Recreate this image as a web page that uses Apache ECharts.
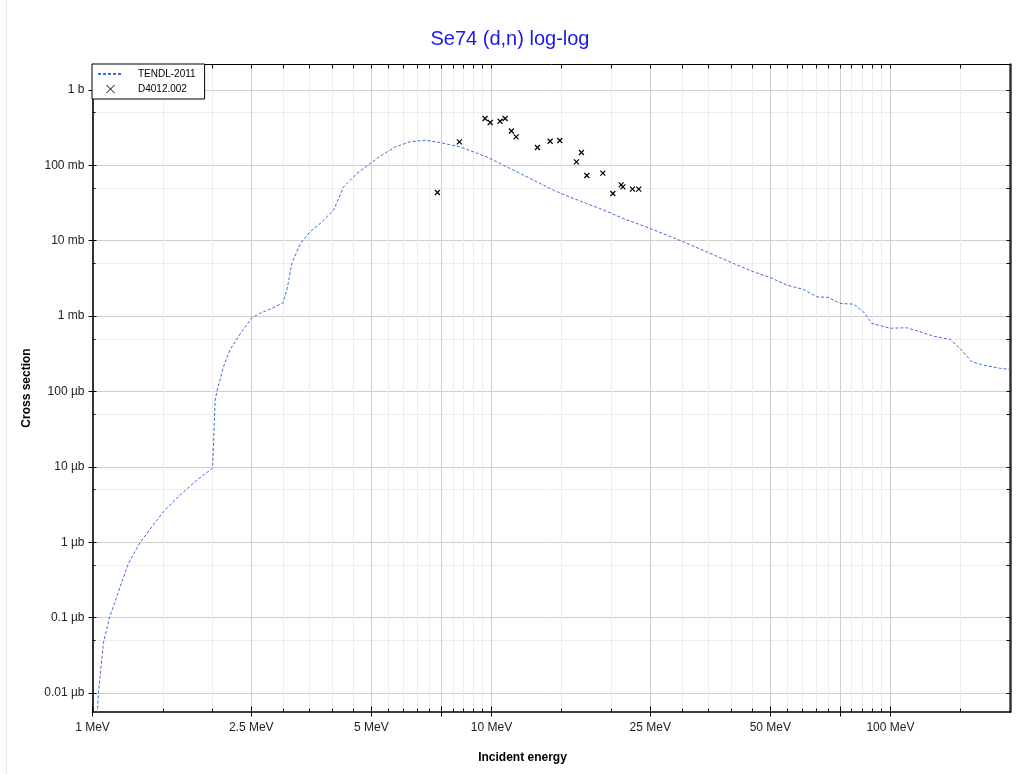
<!DOCTYPE html>
<html><head><meta charset="utf-8">
<script src="https://cdn.jsdelivr.net/npm/echarts@6/dist/echarts.min.js"></script>
<style>html,body{margin:0;padding:0;background:#fff}#c{width:1020px;height:774px}</style>
</head><body><div id="c"></div>
<script>
// ---- data (energy in MeV, cross section in barns) ----
const tendlEnergy = [1.02,1.035,1.065,1.103,1.173,1.231,1.317,1.409,1.506,1.659,1.827,2.0,2.03,2.05,2.13,2.21,2.35,2.51,2.63,2.82,3.0,3.07,3.16,3.32,3.51,3.72,4.02,4.26,4.60,4.97,5.26,5.74,6.26,6.83,7.44,8.35,9.74,10.72,11.8,13.0,14.3,15.7,17.3,18.7,21.6,25.0,30.3,40.4,45.4,49.9,55.0,60.5,65.4,69.9,74.8,80.8,85.6,89.8,99.8,109.9,118.7,128.2,141.1,149.5,160,171,188.4,200];
const tendlXS = [2.5e-9,1.0e-8,4.6e-8,1.0e-7,2.58e-7,5.28e-7,1.0e-6,1.61e-6,2.55e-6,4.25e-6,6.7e-6,9.6e-6,7.7e-5,1.0e-4,2.13e-4,3.55e-4,5.9e-4,9.5e-4,1.09e-3,1.27e-3,1.5e-3,2.2e-3,5.0e-3,9.2e-3,0.0131,0.0169,0.0254,0.0517,0.0778,0.1055,0.132,0.175,0.205,0.215,0.2,0.175,0.129,0.1,0.078,0.0602,0.0467,0.0381,0.0311,0.0267,0.0193,0.01452,0.00965,0.00499,0.00386,0.00326,0.00258,0.00226,0.0018,0.00177,0.00147,0.00144,0.00114,8.0e-4,6.9e-4,7.0e-4,6.2e-4,5.4e-4,4.9e-4,3.7e-4,2.48e-4,2.24e-4,2.03e-4,1.96e-4];
const expEnergy = [7.32,8.31,9.64,9.93,10.51,10.82,11.22,11.53,13.04,14.03,14.84,16.81,16.33,17.34,19.02,20.15,21.14,21.35,22.57,23.4];
const expXS = [0.0435,0.204,0.417,0.369,0.384,0.417,0.285,0.238,0.172,0.208,0.213,0.1476,0.111,0.0731,0.0785,0.0422,0.055,0.0517,0.0482,0.0482];

const xMajorTicks = [1,2.5,5,7.5,10,25,50,75,100];
const xLabelTicks = [1,2.5,5,10,25,50,100];
const xMinorTicks = [1.5,2,3,3.5,4,4.5,5.5,6,6.5,7,8,8.5,9,9.5,15,20,30,35,40,45,55,60,65,70,80,85,90,95,150];
const yMajorTicks = [1e-8,1e-7,1e-6,1e-5,1e-4,1e-3,1e-2,1e-1,1];
const yTickLabels = ['0.01 µb','0.1 µb','1 µb','10 µb','100 µb','1 mb','10 mb','100 mb','1 b'];
const yMinorTicks = [5e-8,5e-7,5e-6,5e-5,5e-4,5e-3,5e-2,5e-1];

const X_MIN = 1, X_MAX = 200, Y_MIN = 5.7e-9, Y_MAX = 2.17;
const FONT = 'Liberation Sans, Arial, sans-serif';

const chart = echarts.init(document.getElementById('c'), null, {renderer:'canvas'});

function xAx(extra){ return Object.assign({type:'log', logBase:10, min:X_MIN, max:X_MAX, axisPointer:{show:false}, axisLabel:{show:false}, splitLine:{show:false}, axisLine:{show:false}}, extra); }
function yAx(extra){ return Object.assign({type:'log', logBase:10, min:Y_MIN, max:Y_MAX, axisPointer:{show:false}, axisLabel:{show:false}, splitLine:{show:false}, axisLine:{show:false}}, extra); }

const option = {
  animation:false,
  backgroundColor:'#fff',
  textStyle:{fontFamily:FONT},
  title:{text:'Se74 (d,n) log-log', left:'center', top:24, textStyle:{color:'#1a1ae6', fontSize:20, fontWeight:'normal', fontFamily:FONT}},
  graphic:[{type:'line', shape:{x1:6.5,y1:0,x2:6.5,y2:774}, style:{stroke:'#e8e8e8', lineWidth:1}, silent:true}],
  legend:{
    left:92, top:64, orient:'vertical', backgroundColor:'#fff', borderColor:'#000', borderWidth:1, borderRadius:0,
    padding:[5,9,5,5], itemGap:5, itemWidth:25, itemHeight:8,
    textStyle:{fontSize:10, color:'#000', fontFamily:FONT, padding:[0,0,0,10]},
    data:[
      {name:'TENDL-2011', itemStyle:{opacity:0}},
      {name:'D4012.002', itemStyle:{color:'rgba(0,0,0,0)', borderColor:'#000', borderWidth:1}}
    ]
  },
  grid:{left:92.5, right:9.5, top:64.5, bottom:62.5, containLabel:false, outerBoundsMode:'none'},
  xAxis:[
    xAx({position:'bottom',
      axisLine:{show:true, lineStyle:{color:'#000', width:1.5}},
      axisTick:{show:true, inside:false, length:5, customValues:xMajorTicks, lineStyle:{color:'#000'}},
      axisLabel:{show:true, customValues:xLabelTicks, formatter:function(v){return v+' MeV';}, margin:10, fontSize:12, color:'#222', fontFamily:FONT},
      splitLine:{show:true, lineStyle:{color:'#cfcfcf', width:1}},
      name:'Incident energy', nameLocation:'middle', nameGap:40,
      nameTextStyle:{fontWeight:'bold', fontSize:12, color:'#000', fontFamily:FONT, padding:[0,58,0,0]}}),
    xAx({position:'bottom', axisTick:{show:true, inside:true, length:3, customValues:xMinorTicks, lineStyle:{color:'#000'}},
      splitLine:{show:true, lineStyle:{color:'#ededed', width:1}}}),
    xAx({position:'bottom', axisTick:{show:true, inside:true, length:5, customValues:xMajorTicks, lineStyle:{color:'#000'}}}),
    xAx({position:'top', axisLine:{show:true, lineStyle:{color:'#000', width:1}},
      axisTick:{show:true, inside:true, length:4, customValues:xMajorTicks.concat(xMinorTicks), lineStyle:{color:'#000'}}})
  ],
  yAxis:[
    yAx({position:'left',
      axisLine:{show:true, lineStyle:{color:'#333', width:2}},
      axisTick:{show:true, inside:false, length:4, customValues:yMajorTicks, lineStyle:{color:'#000'}},
      axisLabel:{show:true, customValues:yMajorTicks, margin:8, fontSize:12, color:'#222', fontFamily:FONT,
        formatter:function(v){ const i = Math.round(Math.log10(v)) + 8; return yTickLabels[i] || ''; }},
      splitLine:{show:true, lineStyle:{color:'#cfcfcf', width:1}},
      name:'Cross section', nameLocation:'middle', nameGap:60, nameRotate:90,
      nameTextStyle:{fontWeight:'bold', fontSize:12, color:'#000', fontFamily:FONT}}),
    yAx({position:'left', axisTick:{show:true, inside:true, length:3, customValues:yMinorTicks, lineStyle:{color:'#000'}},
      splitLine:{show:true, lineStyle:{color:'#ededed', width:1}}}),
    yAx({position:'left', axisTick:{show:true, inside:true, length:4, customValues:yMajorTicks, lineStyle:{color:'#000'}}}),
    yAx({position:'right', axisLine:{show:true, lineStyle:{color:'#333', width:2.5}},
      axisTick:{show:true, inside:true, length:4, customValues:yMajorTicks.concat(yMinorTicks), lineStyle:{color:'#000'}}})
  ],
  series:[
    {name:'TENDL-2011', type:'line', xAxisIndex:0, yAxisIndex:0, symbol:'none', smooth:false,
      lineStyle:{color:'#3d6be0', width:1, type:[3,2]}, itemStyle:{color:'#3d6be0'},
      data: tendlEnergy.map(function(e,i){return [e, tendlXS[i]];}), z:3},
    {name:'D4012.002', type:'scatter', xAxisIndex:0, yAxisIndex:0,
      symbol:'path://M0,0L10,10M10,0L0,10', symbolSize:5,
      itemStyle:{color:'rgba(0,0,0,0)', borderColor:'#000', borderWidth:1.2, opacity:1},
      data: expEnergy.map(function(e,i){return [e, expXS[i]];}), z:4}
  ]
};
chart.setOption(option);
</script>
</body></html>
